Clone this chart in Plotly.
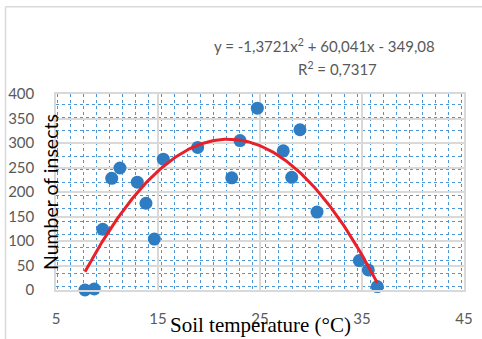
import numpy as np
import plotly.graph_objects as go

# Observed data (soil temperature °C, number of insects)
temperature = [7.84, 8.75, 9.58, 10.46, 11.27, 12.97, 13.82, 14.64, 15.52, 18.89,
               22.23, 23.04, 24.74, 27.28, 28.11, 28.92, 30.59, 34.74, 35.62, 36.5]
insects = [0, 2, 124, 228, 249, 220, 177, 104, 267, 291,
           229, 305, 371, 284, 230, 327, 159, 60, 41, 7]

# Polynomial trendline coefficients (as displayed on chart)
coef_a, coef_b, coef_c = -1.3721, 60.041, -349.08
equation_text = "y = -1,3721x<sup>2</sup> + 60,041x - 349,08"
r2_text = "R<sup>2</sup> = 0,7317"

x_ticks = [5, 15, 25, 35, 45]
y_ticks = [0, 50, 100, 150, 200, 250, 300, 350, 400]

xt = np.linspace(min(temperature), max(temperature), 200)
yt = coef_a * xt**2 + coef_b * xt + coef_c

fig = go.Figure()
fig.add_trace(go.Scatter(x=temperature, y=insects, mode="markers",
                         marker=dict(size=13, color="#2E7DC2"),
                         cliponaxis=False, showlegend=False))
fig.add_trace(go.Scatter(x=xt, y=yt, mode="lines",
                         line=dict(color="#E8202A", width=3),
                         cliponaxis=False, showlegend=False))

W, H = 482, 339
L, R, T, B = 56, 464, 94, 290

def px(x):
    return (x - L) / (R - L)

def py(y):
    return (B - y) / (B - T)

grid_gray = "#D9D9D9"
dot_blue = "#4A96D6"

fig.update_layout(
    width=W, height=H,
    margin=dict(l=L, r=W - R, t=T, b=H - B, autoexpand=False),
    paper_bgcolor="white", plot_bgcolor="white",
    showlegend=False,
    xaxis=dict(range=[5, 45], tickvals=x_ticks, ticktext=[str(v) for v in x_ticks],
               automargin=False,
               showgrid=True, gridcolor=grid_gray, gridwidth=1.5,
               zeroline=False, showline=True, linecolor=grid_gray, linewidth=1.5, mirror=True,
               ticks="", ticklabelstandoff=14,
               tickfont=dict(family="Lato", size=15, color="#595959"),
               minor=dict(showgrid=True, tick0=5.1, dtick=1.28, gridcolor=dot_blue,
                          griddash="dot", gridwidth=1)),
    yaxis=dict(range=[0, 400], tickvals=y_ticks, ticktext=[str(v) for v in y_ticks],
               automargin=False,
               showgrid=True, gridcolor=grid_gray, gridwidth=1.5,
               zeroline=False, showline=True, linecolor=grid_gray, linewidth=1.5, mirror=True,
               ticks="", ticklabelstandoff=17,
               tickfont=dict(family="Lato", size=15, color="#595959"),
               minor=dict(showgrid=True, tick0=7, dtick=26.5, gridcolor=dot_blue,
                          griddash="dot", gridwidth=1)),
    shapes=[dict(type="line", xref="paper", yref="paper",
                 x0=px(5.5), x1=px(5.5), y0=py(H + 5), y1=py(6.7),
                 line=dict(color=grid_gray, width=1.5), layer="above"),
            dict(type="line", xref="paper", yref="paper",
                 x0=px(5.5), x1=px(W + 5), y0=py(6.7), y1=py(6.7),
                 line=dict(color=grid_gray, width=1.5), layer="above")],
    annotations=[
        dict(text=equation_text, xref="paper", yref="paper", x=px(324), y=py(45),
             xanchor="center", yanchor="middle", showarrow=False,
             font=dict(family="Lato", size=15, color="#595959")),
        dict(text=r2_text, xref="paper", yref="paper", x=px(337), y=py(69),
             xanchor="center", yanchor="middle", showarrow=False,
             font=dict(family="Lato", size=15, color="#595959")),
        dict(text="Number of insects", xref="paper", yref="paper", x=px(50), y=0.5,
             xanchor="center", yanchor="middle", textangle=-90, showarrow=False,
             font=dict(family="Lato", size=19.5, color="black")),
        dict(text="Soil temperature (°C)", xref="paper", yref="paper", x=px(260), y=py(325),
             xanchor="center", yanchor="middle", showarrow=False,
             font=dict(family="Liberation Serif", size=21, color="black")),
    ],
)

fig.write_html("out.html", config={"displayModeBar": False},
               post_script="document.body.style.margin='0';document.body.style.overflow='hidden';")
